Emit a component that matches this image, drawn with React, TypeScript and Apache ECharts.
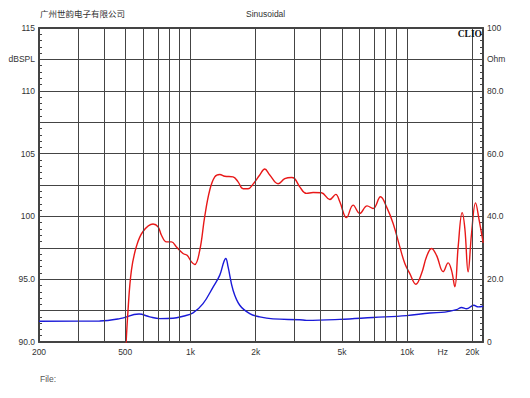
import React, { useEffect, useRef } from "react";
import * as echarts from "echarts";

const splFreq = [500, 515, 534, 563, 604, 672, 709, 735, 775, 817, 862, 924, 965, 1011, 1047, 1104, 1164, 1228, 1295, 1366, 1440, 1573, 1659, 1749, 1845, 1945, 2089, 2203, 2323, 2538, 2725, 2926, 3031, 3196, 3432, 3682, 4026, 4398, 4686, 4890, 5252, 5634, 6048, 6536, 6966, 7538, 8036, 8620, 9254, 9760, 10292, 10972, 11656, 12292, 12960, 13670, 14666, 15466, 16034, 16606, 17200, 17948, 18470, 19126, 19830, 20700, 21500, 22440];
const splDb = [88.5, 92.5, 95.7, 97.6, 98.8, 99.4, 99.17, 98.5, 97.97, 97.97, 97.57, 97.05, 96.9, 96.38, 96.17, 97.3, 100.0, 102.1, 103.15, 103.34, 103.2, 103.15, 102.75, 102.2, 102.2, 102.57, 103.3, 103.77, 103.3, 102.6, 103.0, 103.1, 103.0, 102.35, 101.83, 101.9, 101.88, 101.35, 101.75, 101.16, 99.9, 100.9, 100.23, 100.84, 100.63, 101.56, 100.76, 99.44, 97.57, 96.25, 95.45, 94.6, 95.45, 96.78, 97.45, 96.9, 95.6, 96.3, 95.7, 94.4, 97.57, 100.3, 99.04, 95.58, 98.64, 101.08, 99.7, 97.9];

const impFreq = [200, 381, 472, 579, 649, 721, 831, 924, 1028, 1143, 1272, 1366, 1425, 1456, 1492, 1573, 1689, 1878, 2089, 2406, 3196, 3432, 4890, 6966, 9938, 12730, 14932, 16910, 17834, 18804, 20320, 21280, 22440];
const impOhm = [6.6, 6.7, 7.45, 8.9, 8.0, 7.45, 7.55, 8.2, 9.25, 12.2, 17.5, 21.3, 25.5, 26.6, 23.9, 16.5, 11.7, 9.05, 8.0, 7.35, 7.1, 6.9, 7.2, 7.8, 8.4, 9.25, 9.5, 10.3, 11.0, 10.6, 11.7, 11.2, 11.4];

const gridFreqs = [300, 400, 500, 600, 700, 800, 900, 1000, 2000, 3000, 4000, 5000, 6000, 7000, 8000, 9000, 10000, 20000];
const xTickFreqs = [200, 500, 1000, 2000, 5000, 10000, 14600, 20000];
const xTickLabels = ["200", "500", "1k", "2k", "5k", "10k", "Hz", "20k"];
const leftLabels: Record<string, string> = { "115": "115", "112.5": "dBSPL", "110": "110", "105": "105", "100": "100", "95": "95.0", "90": "90.0" };
const rightLabels: Record<string, string> = { "100": "100", "90": "Ohm", "80": "80.0", "60": "60.0", "40": "40.0", "20": "20.0", "0": "0" };

const F_MIN = 200;
const F_MAX = 22400;
const lg = (f: number) => Math.log10(f);

export default function App() {
  const ref = useRef<HTMLDivElement>(null);
  useEffect(() => {
    document.body.style.margin = "0";
    const chart = echarts.init(ref.current!, undefined, { renderer: "svg" });
    const txt = "#333";
    const axisCol = "#444";
    const font = "'Liberation Sans', Arial, sans-serif";
    chart.setOption({
      animation: false,
      backgroundColor: "#fff",
      title: [
        { text: "广州世韵电子有限公司", left: 40, top: 9, textStyle: { fontSize: 8.5, fontWeight: "normal", color: txt, fontFamily: "'Noto Sans CJK SC', sans-serif" }, padding: 0 },
        { text: "Sinusoidal", left: 246, top: 9, textStyle: { fontSize: 8.5, fontWeight: "normal", color: txt, fontFamily: font }, padding: 0 },
        { text: "CLIO", right: 48, top: 29, textStyle: { fontSize: 9.5, fontWeight: "bold", color: "#111", fontFamily: "'Liberation Serif', 'DejaVu Serif', serif" }, padding: 0 },
        { text: "File:", left: 40, top: 374, textStyle: { fontSize: 8.5, fontWeight: "normal", color: "#555", fontFamily: font }, padding: 0 },
      ],
      grid: { left: 39, right: 47, top: 28, bottom: 56 },
      xAxis: [
        {
          type: "value",
          min: lg(F_MIN),
          max: lg(F_MAX),
          axisLine: { show: true, onZero: false, lineStyle: { color: axisCol, width: 2 } },
          axisTick: { show: false },
          splitLine: { show: false },
          axisLabel: {
            customValues: xTickFreqs.map(lg),
            showMinLabel: true,
            showMaxLabel: true,
            margin: 5,
            fontSize: 8.5,
            color: txt,
            fontFamily: font,
            formatter: (v: number) => {
              let best = 0;
              let d = Infinity;
              xTickFreqs.forEach((f, i) => {
                const dd = Math.abs(lg(f) - v);
                if (dd < d) { d = dd; best = i; }
              });
              return d < 0.001 ? xTickLabels[best] : "";
            },
          },
        },
        {
          type: "value",
          position: "top",
          min: lg(F_MIN),
          max: lg(F_MAX),
          axisLine: { show: true, onZero: false, lineStyle: { color: axisCol, width: 2 } },
          axisTick: { show: false },
          axisLabel: { show: false },
          splitLine: { show: false },
        },
      ],
      yAxis: [
        {
          type: "value",
          min: 90,
          max: 115,
          interval: 2.5,
          position: "left",
          axisLine: { show: true, onZero: false, lineStyle: { color: axisCol, width: 2 } },
          axisTick: { show: true, inside: true, length: 3, lineStyle: { color: axisCol } },
          minorTick: { show: true, splitNumber: 5, length: 3, lineStyle: { color: axisCol } },
          splitLine: { show: true, lineStyle: { color: "#444", width: 1 } },
          axisLabel: {
            margin: 4,
            fontSize: 8.5,
            color: txt,
            fontFamily: font,
            formatter: (v: number) => leftLabels[String(Math.round(v * 10) / 10)] ?? "",
          },
        },
        {
          type: "value",
          min: 0,
          max: 100,
          interval: 10,
          position: "right",
          axisLine: { show: true, onZero: false, lineStyle: { color: axisCol, width: 2 } },
          axisTick: { show: true, inside: true, length: 3, lineStyle: { color: axisCol } },
          minorTick: { show: true, splitNumber: 5, length: 3, lineStyle: { color: axisCol } },
          splitLine: { show: false },
          axisLabel: {
            margin: 4,
            fontSize: 8.5,
            color: txt,
            fontFamily: font,
            formatter: (v: number) => rightLabels[String(Math.round(v))] ?? "",
          },
        },
      ],
      series: [
        {
          type: "line",
          name: "grid",
          xAxisIndex: 0,
          yAxisIndex: 0,
          data: [[lg(F_MIN), 90]],
          showSymbol: false,
          symbol: "none",
          lineStyle: { opacity: 0 },
          silent: true,
          z: 1,
          markLine: {
            silent: true,
            symbol: ["none", "none"],
            label: { show: false },
            lineStyle: { type: "solid", color: "#444", width: 1 },
            data: gridFreqs.map((f) => ({ xAxis: lg(f) })),
          },
        },
        {
          type: "line",
          name: "Impedance",
          xAxisIndex: 0,
          yAxisIndex: 1,
          data: impFreq.map((f, i) => [lg(f), impOhm[i]]),
          showSymbol: false,
          symbol: "none",
          smooth: 0.4,
          lineStyle: { color: "#1a1ad8", width: 1.4 },
          z: 3,
        },
        {
          type: "line",
          name: "SPL",
          xAxisIndex: 0,
          yAxisIndex: 0,
          data: splFreq.map((f, i) => [lg(f), splDb[i]]),
          showSymbol: false,
          symbol: "none",
          smooth: 0.4,
          clip: true,
          lineStyle: { color: "#e81818", width: 1.4 },
          z: 4,
        },
      ],
    });
    return () => chart.dispose();
  }, []);
  return <div ref={ref} style={{ width: 530, height: 398 }} />;
}
